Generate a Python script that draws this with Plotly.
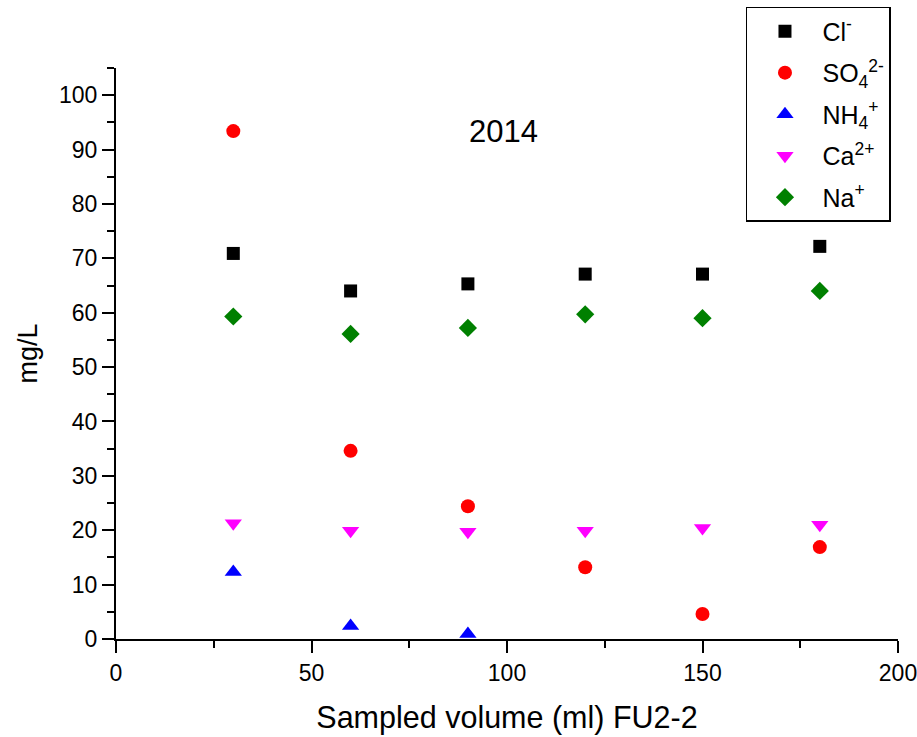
import plotly.graph_objects as go

# Sampled volumes (ml) for the FU2-2 series
volume = [30, 60, 90, 120, 150, 180]
volume_nh4 = [30, 60, 90]

# Ion concentrations (mg/L)
cl = [70.9, 64.0, 65.3, 67.1, 67.1, 72.2]
so4 = [93.4, 34.6, 24.4, 13.2, 4.6, 16.9]
nh4 = [12.3, 2.4, 0.9]
ca = [21.3, 19.9, 19.7, 19.9, 20.4, 21.0]
na = [59.3, 56.1, 57.2, 59.7, 59.0, 64.0]

series = [
    ("Cl<sup>-</sup>", volume, cl, "square", "black", 13),
    ("SO<sub>4</sub><sup>2-</sup>", volume, so4, "circle", "red", 14),
    ("NH<sub>4</sub><sup>+</sup>", volume_nh4, nh4, "triangle-up", "blue", 15),
    ("Ca<sup>2+</sup>", volume, ca, "triangle-down", "magenta", 15),
    ("Na<sup>+</sup>", volume, na, "diamond", "green", 14),
]

fig = go.Figure()
for i, (name, xs, ys, sym, col, size) in enumerate(series):
    fig.add_trace(go.Scatter(
        x=xs, y=ys, mode="markers", name=name, legendgroup=f"g{i}",
        marker=dict(symbol=sym, color=col, size=size, line=dict(width=0)),
    ))

font_family = "Liberation Sans, Arial, sans-serif"

axis_common = dict(
    showline=True, linecolor="black", linewidth=2,
    ticks="outside", ticklen=12, tickwidth=2, tickcolor="black",
    showgrid=False, zeroline=False, mirror=False, automargin=False,
    ticklabeloverflow="allow",
    tickfont=dict(family=font_family, size=23, color="black"),
    minor=dict(ticks="outside", ticklen=7, tickwidth=2, tickcolor="black"),
)

fig.update_xaxes(
    range=[0, 200], tickvals=[0, 50, 100, 150, 200],
    minor_tickvals=[25, 75, 125, 175],
    title=dict(text="Sampled volume (ml) FU2-2",
               font=dict(family=font_family, size=30.5, color="black"),
               standoff=22),
    **axis_common,
)
fig.update_yaxes(
    range=[0, 105], tickvals=list(range(0, 101, 10)),
    minor_tickvals=list(range(5, 106, 10)),
    title=dict(text="mg/L",
               font=dict(family=font_family, size=27, color="black"),
               standoff=14),
    **axis_common,
)

fig.add_annotation(
    x=99, y=93.3, xref="x", yref="y", text="2014", showarrow=False,
    font=dict(family=font_family, size=31, color="black"),
)

fig.update_layout(
    width=917, height=737,
    margin=dict(l=116, r=19, t=68, b=98, autoexpand=False),
    paper_bgcolor="white", plot_bgcolor="white",
    font=dict(family=font_family, color="black"),
    legend=dict(
        x=0.8056, y=1.107, xanchor="left", yanchor="top",
        bordercolor="black", borderwidth=1.5, bgcolor="white",
        font=dict(family=font_family, size=25, color="black"),
        itemsizing="trace", itemwidth=65, tracegroupgap=6,
    ),
    showlegend=True,
)

fig.write_html("out.html")
